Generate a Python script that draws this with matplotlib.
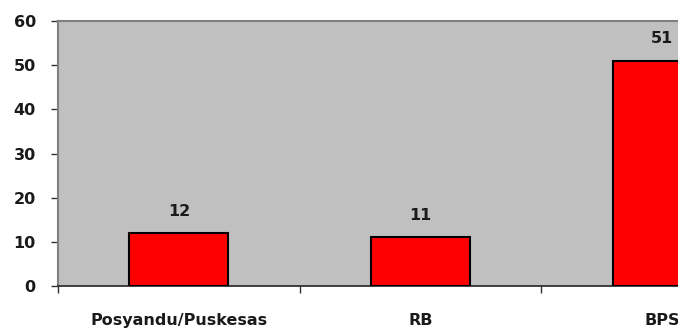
import matplotlib
matplotlib.use("Agg")
import matplotlib.pyplot as plt

categories = ["Posyandu/Puskesas", "RB", "BPS"]
values = [12, 11, 51]
yticks = [0, 10, 20, 30, 40, 50, 60]

W, H = 678, 331
fig = plt.figure(figsize=(W / 100, H / 100), dpi=100)
left, right_px = 58, 783
top, bottom = 21, 286
ax = fig.add_axes([left / W, 1 - bottom / H, (right_px - left) / W, (bottom - top) / H])
ax.set_facecolor("#C0C0C0")

FS = 11.5
TC = "#1a1a1a"

x = list(range(len(categories)))
ax.bar(x, values, width=0.41, color="#FF0000", edgecolor="black", linewidth=1.5, zorder=3)
for xi, v in zip(x, values):
    ax.annotate(str(v), (xi, v), xytext=(0, 12.5), textcoords="offset points",
                ha="center", va="baseline", fontsize=FS, fontweight="bold", color=TC)

ax.set_xlim(-0.5, len(categories) - 0.5)
ax.set_ylim(0, 60)
ax.set_yticks(yticks)
ax.set_yticklabels([str(t) for t in yticks], fontsize=FS, fontweight="bold", color=TC)
ax.tick_params(axis="y", direction="out", length=5, width=1, color="#333333", pad=11)

ax.set_xticks([i + 0.5 for i in range(len(categories) - 1)] + [-0.5])
ax.set_xticklabels([""] * len(categories))
ax.tick_params(axis="x", direction="out", length=5, width=1, color="#333333")
for xi, c in zip(x, categories):
    ax.annotate(c, (xi, 0), xytext=(0, -28), textcoords="offset points",
                ha="center", va="baseline", fontsize=FS, fontweight="bold", color=TC,
                annotation_clip=False)

for s in ["top", "left", "right"]:
    ax.spines[s].set_color("#808080")
    ax.spines[s].set_linewidth(1.5)
ax.spines["bottom"].set_color("#222222")
ax.spines["bottom"].set_linewidth(1.2)

fig.savefig("out.png", dpi=100)
